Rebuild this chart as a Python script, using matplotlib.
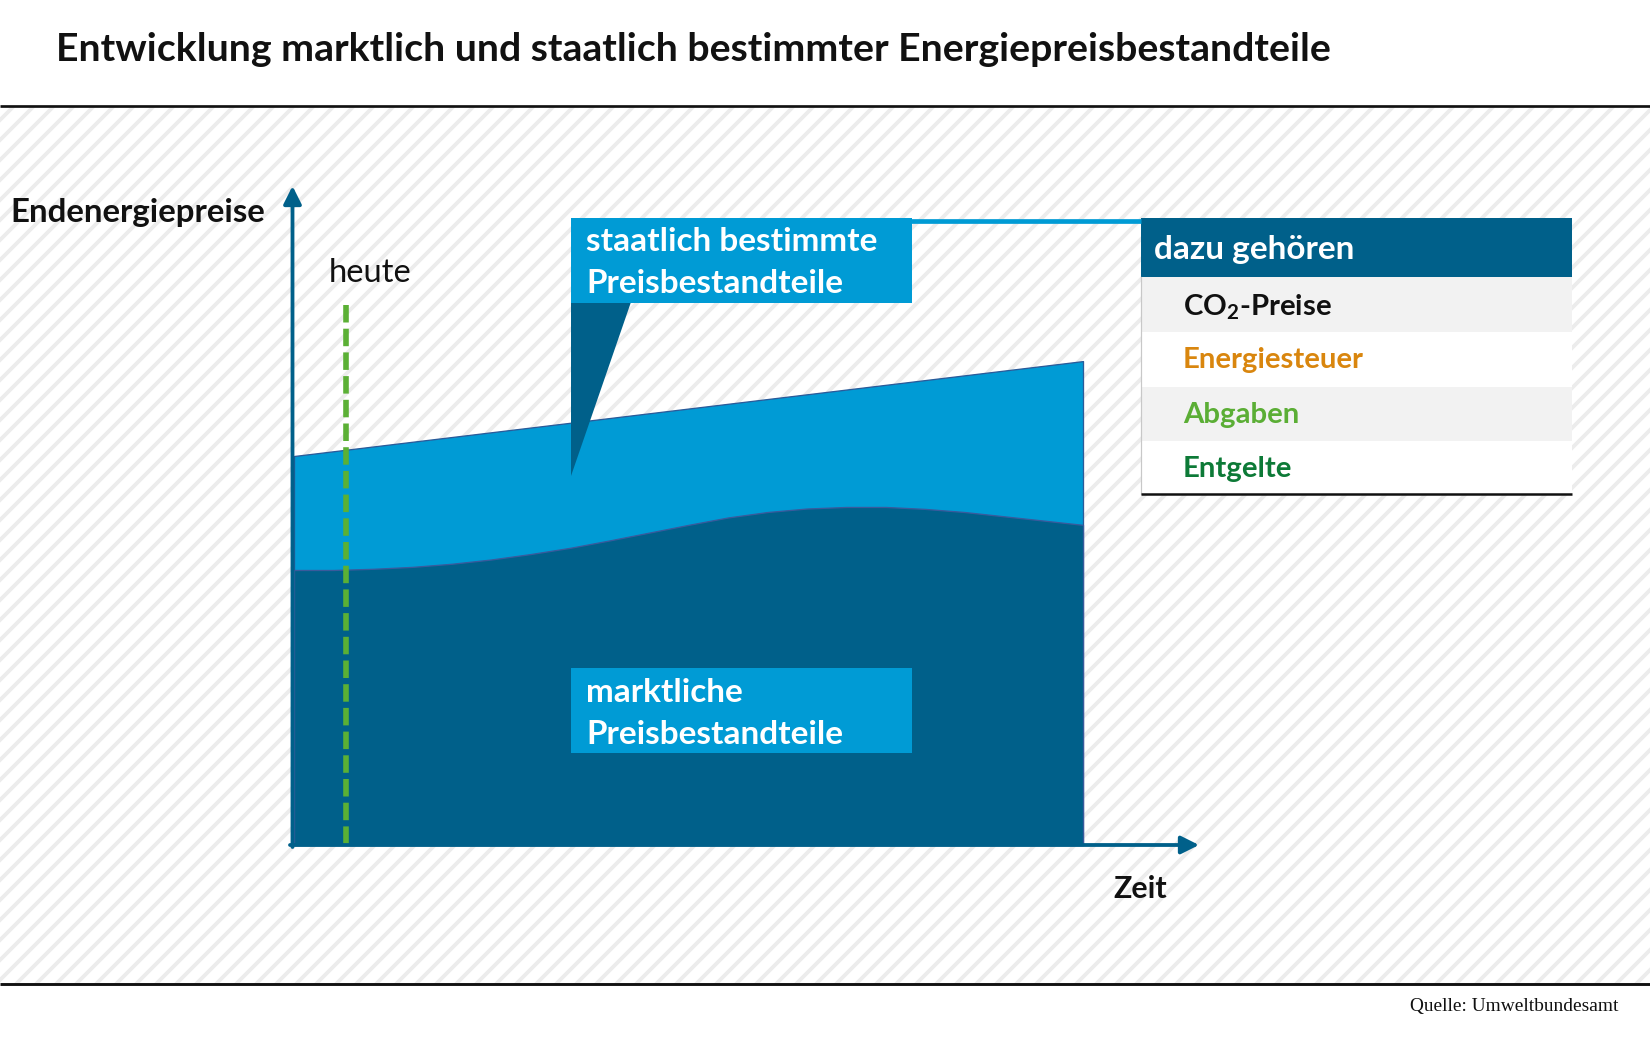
import matplotlib
matplotlib.use("Agg")
import matplotlib.pyplot as plt
from matplotlib.patches import Rectangle, Polygon

# ---------------- data (schematic) ----------------
title = "Entwicklung marktlich und staatlich bestimmter Energiepreisbestandteile"
y_label = "Endenergiepreise"
x_label = "Zeit"
today_label = "heute"
source = "Quelle: Umweltbundesamt"

# time axis (arbitrary units 0..10) and price index (left total = 100)
t_total = [0, 10]
total_price = [100.0, 124.4]           # market + state components (straight line)

t_market = [0, 0.5, 1, 1.5, 2, 2.5, 3, 3.5, 4, 4.5, 5,
            5.5, 6, 6.5, 7, 7.5, 8, 8.5, 9, 9.5, 10]
market_price = [70.7, 70.7, 71.0, 71.5, 72.3, 73.4, 74.8, 76.4, 78.3, 80.3, 82.3,
                84.2, 85.6, 86.5, 86.9, 86.9, 86.4, 85.6, 84.5, 83.4, 82.3]

today_t = 0.66
today_top = 138.8

state_box = ["staatlich bestimmte", "Preisbestandteile"]
market_box = ["marktliche", "Preisbestandteile"]
legend_title = "dazu gehören"
legend_items = ["CO$_2$-Preise", "Energiesteuer", "Abgaben", "Entgelte"]
legend_colors = ["#111111", "#d9860e", "#5bae35", "#0d7a37"]

# ---------------- style ----------------
DARK = "#00608a"
LIGHT = "#009bd5"
GREEN = "#5bb035"
DPI = 60
W, H = 1650, 1038


def px(v):
    """pixels -> points"""
    return v * 72.0 / DPI


plt.rcParams["hatch.linewidth"] = px(3.8)
plt.rcParams["lines.scale_dashes"] = False
plt.rcParams["mathtext.default"] = "regular"
FONT = ["Lato", "DejaVu Sans"]

fig = plt.figure(figsize=(W / DPI, H / DPI), dpi=DPI)
fig.patch.set_facecolor("white")

bg = fig.add_axes([0, 0, 1, 1], zorder=0)
bg.set_xlim(0, W); bg.set_ylim(H, 0); bg.axis("off")

# chart axes: t=0..10 maps to px 294..1083, price 0..100 maps to px 845..456
cax = fig.add_axes([294 / W, 1 - 845 / H, (1083 - 294) / W, (845 - 456) / H], zorder=1)
cax.set_xlim(0, 10); cax.set_ylim(0, 100); cax.axis("off")

fg = fig.add_axes([0, 0, 1, 1], zorder=2)
fg.set_xlim(0, W); fg.set_ylim(H, 0); fg.axis("off")

renderer = fig.canvas.get_renderer()


def fit(ax, x, y, s, width, **kw):
    t = ax.text(x, y, s, fontsize=20, **kw)
    w = t.get_window_extent(renderer=renderer).width
    t.set_fontsize(20 * width / w)
    return t


def size_for(s, width, **kw):
    t = fg.text(0, 0, s, fontsize=20, **kw)
    w = t.get_window_extent(renderer=renderer).width
    t.remove()
    return 20 * width / w


# ---------------- background ----------------
bg.add_patch(Rectangle((0, 106), W, 878, facecolor="white", edgecolor="#ececec",
                       hatch="/", linewidth=0, zorder=0))
bg.plot([0, W], [106, 106], color="#111111", lw=px(2.7), solid_capstyle="butt")
bg.plot([0, W], [984, 984], color="#111111", lw=px(2.9), solid_capstyle="butt")

fit(bg, 56, 61, title, 1266, family=FONT, weight="bold", color="#111111",
    va="baseline")

# ---------------- areas ----------------
cax.fill_between(t_total, 0, total_price, facecolor=LIGHT, edgecolor="#2a5b9a",
                 linewidth=px(1.3), clip_on=False, zorder=1)
cax.fill_between(t_market, 0, market_price, facecolor=DARK, edgecolor="#3a5a9c",
                 linewidth=px(1.3), clip_on=False, zorder=2)
cax.plot([today_t, today_t], [today_top, 0], color=GREEN, lw=px(5.6),
         dashes=(px(17.5), px(6.2)), clip_on=False, zorder=3,
         dash_capstyle="butt")

# ---------------- axes arrows ----------------
arrow = dict(arrowstyle="-|>", lw=px(3.8), color=DARK, mutation_scale=px(37.5),
             shrinkA=0, shrinkB=0)
fg.annotate("", xy=(292.5, 186), xytext=(292.5, 847), arrowprops=arrow)
fg.annotate("", xy=(1199, 845), xytext=(290, 845), arrowprops=arrow)

fit(fg, 10, 222, y_label, 254, family=FONT, weight="bold", color="#111111",
    va="baseline")
fit(fg, 1113, 898, x_label, 53, family=FONT, weight="bold", color="#111111",
    va="baseline")
fit(fg, 329, 282, today_label, 83, family=FONT, color="#111111", va="baseline")

# ---------------- callout boxes ----------------
fg.add_patch(Polygon([(571, 302), (631, 302), (571, 476)], closed=True,
                     facecolor=DARK, edgecolor="none"))
fg.add_patch(Rectangle((571, 218), 341, 85, facecolor=LIGHT, edgecolor="none"))
fg.plot([910, 1141], [220.5, 220.5], color=LIGHT, lw=px(4.7), solid_capstyle="butt")
fg.add_patch(Rectangle((571, 668), 341, 85, facecolor=LIGHT, edgecolor="none"))

bs = size_for("Preisbestandteile", 255, family=FONT, weight="bold")
fg.text(586, 251, state_box[0], fontsize=bs, family=FONT, weight="bold",
        color="white", va="baseline")
fg.text(586, 293, state_box[1], fontsize=bs, family=FONT, weight="bold",
        color="white", va="baseline")
fg.text(586, 702, market_box[0], fontsize=bs, family=FONT, weight="bold",
        color="white", va="baseline")
fg.text(586, 744, market_box[1], fontsize=bs, family=FONT, weight="bold",
        color="white", va="baseline")

# ---------------- legend table ----------------
fg.add_patch(Rectangle((1141, 218), 431, 59.5, facecolor=DARK, edgecolor="none"))
row_top = [277, 331.5, 386.5, 441]
row_h = [54.5, 55, 54.5, 53]
row_fill = ["#f2f2f2", "white", "#f2f2f2", "white"]
for y0, h, c in zip(row_top, row_h, row_fill):
    fg.add_patch(Rectangle((1141, y0), 431, h, facecolor=c, edgecolor="none"))
fg.plot([1141, 1141], [277, 494], color="#c8c8c8", lw=px(1.2))
fg.plot([1141, 1572], [494, 494], color="#111111", lw=px(2.5), solid_capstyle="butt")

fit(fg, 1154, 259, legend_title, 200, family=FONT, weight="bold", color="white",
    va="baseline")
ls = size_for("Energiesteuer", 181, family=FONT, weight="bold")
baselines = [315, 368, 423, 477]
for s, c, yb in zip(legend_items, legend_colors, baselines):
    fg.text(1183, yb, s, fontsize=ls, family=FONT, weight="bold", color=c,
            va="baseline")

fit(fg, 1618, 1011, source, 208, family=["Liberation Serif", "DejaVu Serif"],
    color="#111111", va="baseline", ha="right")

fig.savefig("out.png", dpi=DPI, facecolor="white")
